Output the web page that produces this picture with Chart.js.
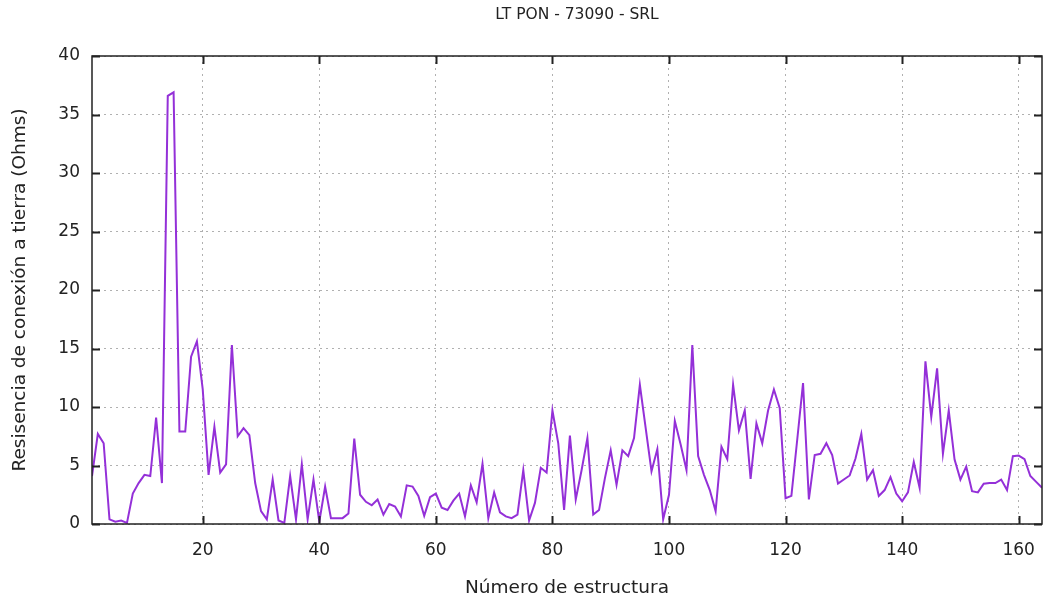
<!DOCTYPE html>
<html>
<head>
<meta charset="utf-8">
<script src="https://cdn.jsdelivr.net/npm/chart.js@4"></script>
<style>
  html, body { margin: 0; padding: 0; background: #fff; }
  #wrap { width: 1044px; height: 604px; }
</style>
</head>
<body>
<div id="wrap"><canvas id="chart" width="1044" height="604"></canvas></div>
<script>
// valores
const title = 'LT PON - 73090 - SRL';
const xTitle = 'Número de estructura';
const yTitle = 'Resisencia de conexión a tierra (Ohms)';

const resistencia = [
  4.1, 7.7, 6.9, 0.4, 0.2, 0.3, 0.1, 2.6, 3.5, 4.2,
  4.1, 9.1, 3.5, 36.6, 36.9, 7.9, 7.9, 14.3, 15.6, 11.5,
  4.2, 8.3, 4.4, 5.1, 15.3, 7.5, 8.2, 7.6, 3.5, 1.1,
  0.4, 3.8, 0.3, 0.1, 4.1, 0.4, 5.1, 0.4, 3.8, 0.2,
  3.2, 0.5, 0.5, 0.5, 0.9, 7.3, 2.5, 1.9, 1.6, 2.1,
  0.8, 1.7, 1.5, 0.65, 3.3, 3.2, 2.4, 0.7, 2.3, 2.6,
  1.4, 1.2, 2.0, 2.6, 0.65, 3.3, 1.85, 5.15, 0.5, 2.7,
  1.0, 0.65, 0.5, 0.8, 4.6, 0.3, 1.8, 4.8, 4.4, 9.7,
  6.9, 1.2, 7.55, 2.1, 4.6, 7.35, 0.8, 1.2, 3.9, 6.3,
  3.35, 6.3, 5.8, 7.35, 11.9, 8.2, 4.5, 6.4, 0.4, 2.5,
  8.8, 6.8, 4.6, 15.3, 5.8, 4.2, 2.9, 1.1, 6.6, 5.55,
  11.9, 8.0, 9.7, 3.85, 8.6, 6.9, 9.7, 11.5, 9.9, 2.2,
  2.4, 7.2, 12.05, 2.1, 5.9, 6.0, 6.9, 5.9, 3.45, 3.8,
  4.15, 5.6, 7.7, 3.8, 4.6, 2.4, 2.9, 4.0, 2.6, 1.95,
  2.7, 5.3, 3.1, 13.9, 9.15, 13.3, 6.0, 9.7, 5.5, 3.8,
  4.9, 2.8, 2.7, 3.45, 3.5, 3.5, 3.8, 2.9, 5.8, 5.85,
  5.55, 4.1, 3.6, 3.1
];
const estructuras = resistencia.map((v, i) => i + 1);

const xTicks = [20, 40, 60, 80, 100, 120, 140, 160];
const yTicks = [0, 5, 10, 15, 20, 25, 30, 35, 40];

const txt = '#222';
const fam = '"DejaVu Sans", Verdana, sans-serif';

// marco negro, marcas hacia adentro y titulo (estilo gnuplot)
const frame = {
  id: 'frame',
  afterDraw(chart) {
    const { ctx, chartArea: a, scales } = chart;
    ctx.save();
    ctx.strokeStyle = '#222';
    ctx.lineWidth = 1.5;
    ctx.strokeRect(a.left, a.top, a.right - a.left, a.bottom - a.top);
    ctx.lineWidth = 2;
    const L = 8;
    ctx.beginPath();
    xTicks.forEach(v => {
      const x = Math.round(scales.x.getPixelForValue(v)) + 0.5;
      ctx.moveTo(x, a.bottom); ctx.lineTo(x, a.bottom - L);
      ctx.moveTo(x, a.top); ctx.lineTo(x, a.top + L);
    });
    yTicks.forEach(v => {
      const y = Math.round(scales.y.getPixelForValue(v)) + 0.5;
      ctx.moveTo(a.left, y); ctx.lineTo(a.left + L, y);
      ctx.moveTo(a.right, y); ctx.lineTo(a.right - L, y);
    });
    ctx.stroke();

    ctx.fillStyle = txt;
    ctx.font = '15.5px ' + fam;
    ctx.textAlign = 'center';
    ctx.textBaseline = 'middle';
    ctx.fillText(title, 577, 15);
    ctx.restore();
  }
};

new Chart(document.getElementById('chart'), {
  type: 'line',
  data: {
    labels: estructuras,
    datasets: [{
      data: estructuras.map((x, i) => ({ x: x, y: resistencia[i] })),
      borderColor: '#9430d8',
      borderWidth: 2,
      pointRadius: 0,
      tension: 0,
      fill: false
    }]
  },
  options: {
    responsive: false,
    animation: false,
    layout: { padding: { left: 0, right: 2, top: 56, bottom: 0 } },
    plugins: {
      legend: { display: false },
      tooltip: { enabled: false },
      title: { display: false }
    },
    scales: {
      x: {
        type: 'linear',
        min: 1,
        max: 164,
        afterBuildTicks: s => { s.ticks = xTicks.map(v => ({ value: v })); },
        afterFit: s => { s.height = 80; s.paddingLeft = 0; s.paddingRight = 0; },
        ticks: { color: txt, font: { family: fam, size: 17 }, padding: 16, maxRotation: 0 },
        grid: { color: '#b0b0b0', lineWidth: 1, drawTicks: false },
        border: { display: false, dash: [2, 4] },
        title: {
          display: true, text: xTitle, color: txt,
          font: { family: fam, size: 18.5 }, padding: { top: 0, bottom: 5 }
        }
      },
      y: {
        min: 0,
        max: 40,
        afterBuildTicks: s => { s.ticks = yTicks.map(v => ({ value: v })); },
        afterFit: s => { s.width = 92; s.paddingTop = 0; s.paddingBottom = 0; },
        ticks: { color: txt, font: { family: fam, size: 17 }, padding: 12 },
        grid: { color: '#b0b0b0', lineWidth: 1, drawTicks: false },
        border: { display: false, dash: [2, 4] },
        title: {
          display: true, text: yTitle, color: txt,
          font: { family: fam, size: 18.5 }, padding: { top: 9, bottom: 0 }
        }
      }
    }
  },
  plugins: [frame]
});
</script>
</body>
</html>
